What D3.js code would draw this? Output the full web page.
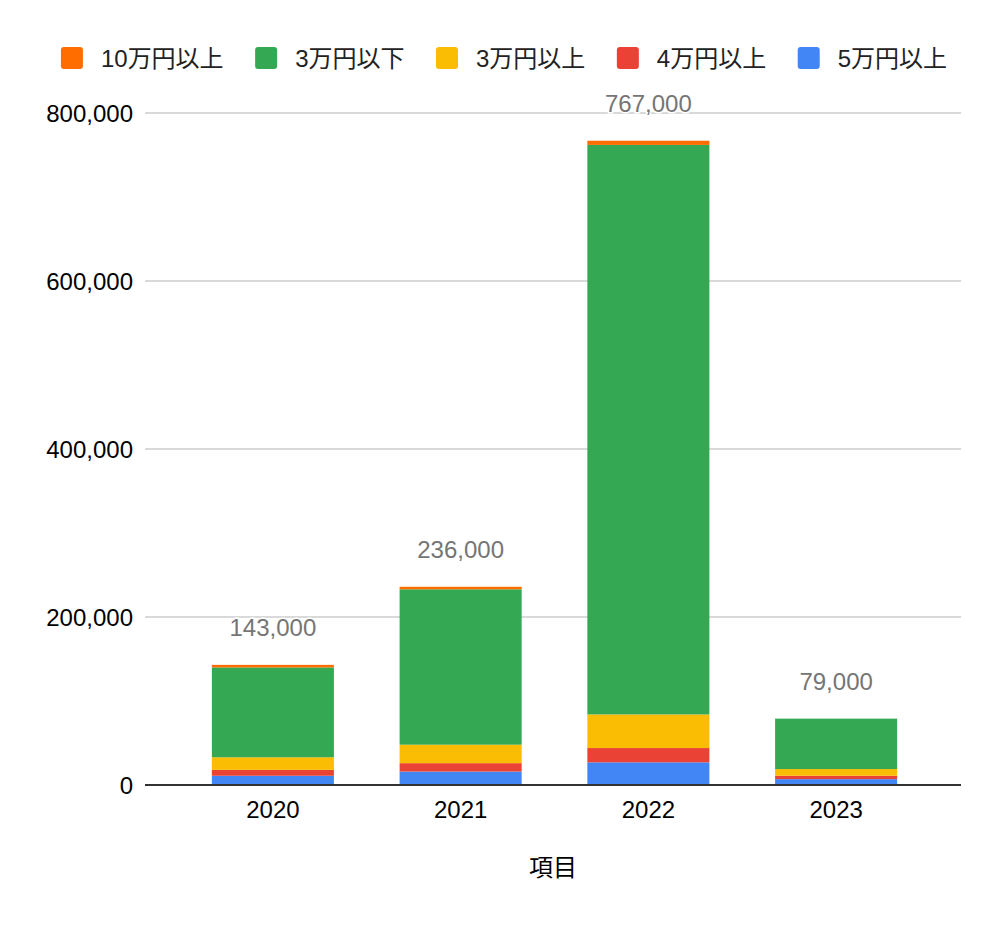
<!DOCTYPE html>
<html>
<head>
<meta charset="utf-8">
<script src="https://cdn.jsdelivr.net/npm/d3@7"></script>
<style>
    body { margin: 0; background: #fff; }
    text { font-family: 'Liberation Sans', Arial, 'Noto Sans CJK JP', sans-serif; }
</style>
</head>
<body>
<div class="svg-div"></div>
<script>
// data (yen bands per year)
const years = ['2020', '2021', '2022', '2023']
const over5 = [11000, 16000, 27000, 7000]
const over4 = [7000, 10000, 17000, 4000]
const over3 = [15000, 22000, 40000, 8000]
const under3 = [107000, 185000, 678000, 60000]
const over10 = [3000, 3000, 5000, 0]
const yTicks = [0, 200000, 400000, 600000, 800000]

const seriesNames = ['5万円以上', '4万円以上', '3万円以上', '3万円以下', '10万円以上']
const seriesColors = ['#4285f4', '#ea4335', '#fbbc04', '#34a853', '#ff6d01']
const legendOrder = ['10万円以上', '3万円以下', '3万円以上', '4万円以上', '5万円以上']

const w = 1008
const h = 928
const left = 145
const right = 961

const rows = years.map((y, i) => ({
    year: y,
    '5万円以上': over5[i],
    '4万円以上': over4[i],
    '3万円以上': over3[i],
    '3万円以下': under3[i],
    '10万円以上': over10[i]
}))
const totals = rows.map(r => d3.sum(seriesNames, k => r[k]))

const color = d3.scaleOrdinal().domain(seriesNames).range(seriesColors)

const xScale = d3.scaleBand()
    .domain(years)
    .range([179, 930])
    .paddingInner(0.35)
    .paddingOuter(0.175)

const yScale = d3.scaleLinear()
    .domain([0, 800000])
    .range([785, 113])

const svg = d3.select('.svg-div')
    .append('svg')
    .attr('width', w)
    .attr('height', h)

// gridlines
svg.append('g')
    .selectAll('line')
    .data(yTicks.slice(1))
    .enter()
    .append('line')
    .attr('x1', left)
    .attr('x2', right)
    .attr('y1', d => yScale(d))
    .attr('y2', d => yScale(d))
    .attr('stroke', '#cccccc')
    .attr('stroke-width', 1.5)

// y labels
const yAxis = d3.axisLeft(yScale)
    .tickValues(yTicks)
    .tickSize(0)
    .tickPadding(12)
    .tickFormat(d3.format(','))

svg.append('g')
    .attr('id', 'y-axis')
    .attr('transform', 'translate(' + left + ',0)')
    .call(yAxis)
    .call(g => g.select('.domain').remove())
    .call(g => g.selectAll('text')
        .attr('font-size', 24)
        .attr('fill', '#000')
        .attr('dy', '0.36em'))

// stacked bars
const stacked = d3.stack().keys(seriesNames)(rows)

svg.append('g')
    .selectAll('g')
    .data(stacked)
    .enter()
    .append('g')
    .attr('fill', d => color(d.key))
    .selectAll('rect')
    .data(d => d)
    .enter()
    .append('rect')
    .attr('x', d => xScale(d.data.year))
    .attr('y', d => yScale(d[1]))
    .attr('width', xScale.bandwidth())
    .attr('height', d => yScale(d[0]) - yScale(d[1]))

// zero line
svg.append('line')
    .attr('x1', left)
    .attr('x2', right)
    .attr('y1', yScale(0))
    .attr('y2', yScale(0))
    .attr('stroke', '#333333')
    .attr('stroke-width', 2)

// total labels
svg.append('g')
    .selectAll('text')
    .data(totals)
    .enter()
    .append('text')
    .attr('x', (d, i) => xScale(years[i]) + xScale.bandwidth() / 2)
    .attr('y', d => yScale(d) - 29)
    .attr('text-anchor', 'middle')
    .attr('font-size', 24)
    .attr('fill', '#757575')
    .attr('stroke', '#fff')
    .attr('stroke-width', 3)
    .attr('paint-order', 'stroke')
    .text(d => d3.format(',')(d))

// x labels
const xAxis = d3.axisBottom(xScale).tickSize(0).tickPadding(16)

svg.append('g')
    .attr('id', 'x-axis')
    .attr('transform', 'translate(0,' + yScale(0) + ')')
    .call(xAxis)
    .call(g => g.select('.domain').remove())
    .call(g => g.selectAll('text')
        .attr('font-size', 24)
        .attr('fill', '#000'))

svg.append('text')
    .attr('x', (left + right) / 2)
    .attr('y', 876)
    .attr('text-anchor', 'middle')
    .attr('font-size', 24)
    .attr('fill', '#000')
    .text('項目')

// legend, laid out in a row then centered
const legendGap = 31.5
const legend = svg.append('g')
let cursor = 0
legendOrder.forEach(name => {
    const item = legend.append('g').attr('transform', 'translate(' + cursor + ',0)')
    item.append('rect')
        .attr('x', 0)
        .attr('y', 47)
        .attr('width', 22)
        .attr('height', 22)
        .attr('rx', 3)
        .attr('fill', color(name))
    const t = item.append('text')
        .attr('x', 40)
        .attr('y', 67)
        .attr('font-size', 24)
        .attr('fill', '#222')
        .text(name)
    cursor += 40 + t.node().getComputedTextLength() + legendGap
})
const legendW = cursor - legendGap
legend.attr('transform', 'translate(' + (w / 2 - legendW / 2) + ',0)')
</script>
</body>
</html>
